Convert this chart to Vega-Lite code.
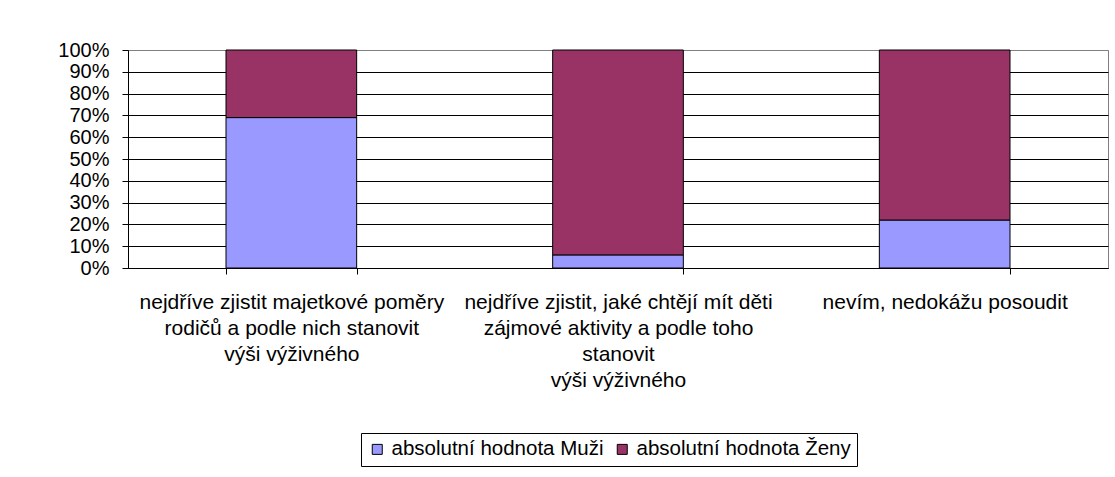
{
  "$schema": "https://vega.github.io/schema/vega-lite/v6.json",
  "autosize": "none",
  "width": 980,
  "height": 218,
  "padding": {"left": 128, "top": 50, "right": 7, "bottom": 209},
  "background": "white",
  "config": {
    "font": "Liberation Sans",
    "view": {"stroke": "#808080", "strokeWidth": 1}
  },
  "data": {
    "values": [
      {"kategorie": "nejdříve zjistit majetkové poměry|rodičů a podle nich stanovit|výši výživného", "serie": "absolutní hodnota Muži", "hodnota": 69},
      {"kategorie": "nejdříve zjistit majetkové poměry|rodičů a podle nich stanovit|výši výživného", "serie": "absolutní hodnota Ženy", "hodnota": 31},
      {"kategorie": "nejdříve zjistit, jaké chtějí mít děti|zájmové aktivity a podle toho|stanovit|výši výživného", "serie": "absolutní hodnota Muži", "hodnota": 6},
      {"kategorie": "nejdříve zjistit, jaké chtějí mít děti|zájmové aktivity a podle toho|stanovit|výši výživného", "serie": "absolutní hodnota Ženy", "hodnota": 94},
      {"kategorie": "nevím, nedokážu posoudit", "serie": "absolutní hodnota Muži", "hodnota": 22},
      {"kategorie": "nevím, nedokážu posoudit", "serie": "absolutní hodnota Ženy", "hodnota": 78}
    ]
  },
  "mark": {"type": "bar", "stroke": "black", "strokeWidth": 1},
  "encoding": {
    "x": {
      "field": "kategorie",
      "type": "nominal",
      "sort": null,
      "scale": {"paddingInner": 0.6, "paddingOuter": 0.3},
      "axis": {
        "title": null,
        "labelAngle": 0,
        "labelExpr": "split(datum.label, '|')",
        "labelFont": "Liberation Sans",
        "labelFontSize": 21,
        "labelColor": "black",
        "labelLineHeight": 26,
        "labelPadding": 17,
        "labelLimit": 0,
        "tickBand": "extent",
        "tickSize": 6,
        "tickColor": "black",
        "domainColor": "black",
        "grid": false
      }
    },
    "y": {
      "field": "hodnota",
      "type": "quantitative",
      "stack": "normalize",
      "scale": {"domain": [0, 1], "nice": false},
      "axis": {
        "title": null,
        "values": [0, 0.1, 0.2, 0.3, 0.4, 0.5, 0.6, 0.7, 0.8, 0.9, 1],
        "format": ".0%",
        "labelFont": "Liberation Sans",
        "labelFontSize": 20,
        "labelColor": "black",
        "labelPadding": 13,
        "tickSize": 6,
        "tickColor": "black",
        "domainColor": "black",
        "grid": true,
        "gridColor": {"condition": {"test": "datum.value == 1", "value": "#808080"}, "value": "black"},
        "gridOpacity": 1
      }
    },
    "color": {
      "field": "serie",
      "type": "nominal",
      "scale": {"domain": ["absolutní hodnota Muži", "absolutní hodnota Ženy"], "range": ["#9999FF", "#993366"]},
      "legend": {
        "title": null,
        "orient": "none",
        "direction": "horizontal",
        "legendX": 233,
        "legendY": 383,
        "padding": 6,
        "strokeColor": "black",
        "fillColor": "white",
        "symbolType": "square",
        "symbolSize": 100,
        "symbolStrokeColor": "black",
        "symbolStrokeWidth": 1,
        "symbolOpacity": 1,
        "labelFont": "Liberation Sans",
        "labelFontSize": 20.5,
        "labelColor": "black",
        "labelOffset": 4,
        "labelLimit": 0,
        "columnPadding": 8
      }
    },
    "order": {"field": "serie", "sort": "ascending"}
  }
}
